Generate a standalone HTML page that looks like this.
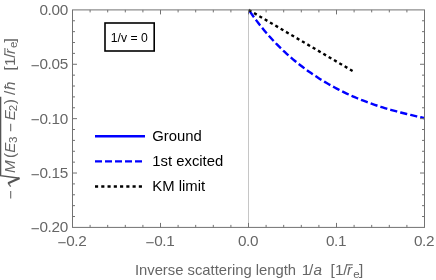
<!DOCTYPE html>
<html><head><meta charset="utf-8"><title>plot</title>
<style>
html,body{margin:0;padding:0;background:#fff;}
body{width:436px;height:280px;overflow:hidden;}
svg{display:block;will-change:transform;}
text{font-family:"Liberation Sans",sans-serif;}
.tk text{font-size:15.3px;fill:#666;letter-spacing:-0.35px;}
.tk.yl text{font-size:15.3px;letter-spacing:0;}
.tk.xl text{font-size:14.8px;letter-spacing:0;}
.lg text{font-size:14.85px;fill:#000;}
</style></head><body>
<svg width="436" height="280" viewBox="0 0 436 280">
<rect width="436" height="280" fill="#fff"/>
<line x1="248.5" y1="9.9" x2="248.5" y2="227.4" stroke="#c6c6c6" stroke-width="1"/>
<path d="M248.70,9.70 L250.70,12.62 L252.70,15.46 L254.70,18.22 L256.70,20.90 L258.70,23.51 L260.70,26.06 L262.70,28.53 L264.70,30.95 L266.70,33.30 L268.70,35.59 L270.70,37.82 L272.70,39.99 L274.70,42.11 L276.70,44.18 L278.70,46.20 L280.70,48.17 L282.70,50.09 L284.70,51.97 L286.70,53.80 L288.70,55.60 L290.70,57.35 L292.70,59.05 L294.70,60.73 L296.70,62.36 L298.70,63.96 L300.70,65.52 L302.70,67.05 L304.70,68.54 L306.70,70.01 L308.70,71.44 L310.70,72.84 L312.70,74.21 L314.70,75.55 L316.70,76.86 L318.70,78.15 L320.70,79.41 L322.70,80.64 L324.70,81.85 L326.70,83.03 L328.70,84.19 L330.70,85.32 L332.70,86.43 L334.70,87.51 L336.70,88.57 L338.70,89.61 L340.70,90.63 L342.70,91.63 L344.70,92.60 L346.70,93.55 L348.70,94.48 L350.70,95.39 L352.70,96.28 L354.70,97.16 L356.70,98.01 L358.70,98.84 L360.70,99.65 L362.70,100.44 L364.70,101.22 L366.70,101.98 L368.70,102.72 L370.70,103.44 L372.70,104.14 L374.70,104.83 L376.70,105.50 L378.70,106.16 L380.70,106.80 L382.70,107.43 L384.70,108.04 L386.70,108.63 L388.70,109.22 L390.70,109.79 L392.70,110.35 L394.70,110.89 L396.70,111.43 L398.70,111.95 L400.70,112.47 L402.70,112.97 L404.70,113.47 L406.70,113.96 L408.70,114.45 L410.70,114.93 L412.70,115.41 L414.70,115.88 L416.70,116.35 L418.70,116.82 L420.70,117.29 L422.70,117.76 L424.70,118.24" fill="none" stroke="#0000ff" stroke-width="2.4" stroke-dasharray="7.2 3.1" stroke-dashoffset="-2"/>
<path d="M248.7,9.9 L352.6,71" fill="none" stroke="#000" stroke-width="2.4" stroke-dasharray="3.09 3.095"/>
<rect x="72.5" y="9.9" width="352.0" height="217.5" fill="none" stroke="#727272" stroke-width="1"/>
<path d="M90.10,227.4v-2.5M90.10,9.9v2.5M107.70,227.4v-2.5M107.70,9.9v2.5M125.30,227.4v-2.5M125.30,9.9v2.5M142.90,227.4v-2.5M142.90,9.9v2.5M160.50,227.4v-4.5M160.50,9.9v4.5M178.10,227.4v-2.5M178.10,9.9v2.5M195.70,227.4v-2.5M195.70,9.9v2.5M213.30,227.4v-2.5M213.30,9.9v2.5M230.90,227.4v-2.5M230.90,9.9v2.5M248.50,227.4v-4.5M248.50,9.9v4.5M266.10,227.4v-2.5M266.10,9.9v2.5M283.70,227.4v-2.5M283.70,9.9v2.5M301.30,227.4v-2.5M301.30,9.9v2.5M318.90,227.4v-2.5M318.90,9.9v2.5M336.50,227.4v-4.5M336.50,9.9v4.5M354.10,227.4v-2.5M354.10,9.9v2.5M371.70,227.4v-2.5M371.70,9.9v2.5M389.30,227.4v-2.5M389.30,9.9v2.5M406.90,227.4v-2.5M406.90,9.9v2.5M72.5,20.77h2.5M424.5,20.77h-2.5M72.5,31.65h2.5M424.5,31.65h-2.5M72.5,42.52h2.5M424.5,42.52h-2.5M72.5,53.40h2.5M424.5,53.40h-2.5M72.5,64.28h4.5M424.5,64.28h-4.5M72.5,75.15h2.5M424.5,75.15h-2.5M72.5,86.03h2.5M424.5,86.03h-2.5M72.5,96.90h2.5M424.5,96.90h-2.5M72.5,107.78h2.5M424.5,107.78h-2.5M72.5,118.65h4.5M424.5,118.65h-4.5M72.5,129.53h2.5M424.5,129.53h-2.5M72.5,140.40h2.5M424.5,140.40h-2.5M72.5,151.28h2.5M424.5,151.28h-2.5M72.5,162.15h2.5M424.5,162.15h-2.5M72.5,173.03h4.5M424.5,173.03h-4.5M72.5,183.90h2.5M424.5,183.90h-2.5M72.5,194.78h2.5M424.5,194.78h-2.5M72.5,205.65h2.5M424.5,205.65h-2.5M72.5,216.53h2.5M424.5,216.53h-2.5" fill="none" stroke="#727272" stroke-width="1"/>
<g class="tk">
<text x="67.8" y="14.80" text-anchor="end">0.00</text>
<text x="67.8" y="69.18" text-anchor="end"><tspan dy="1.7">−</tspan><tspan dy="-1.7">0.05</tspan></text>
<text x="67.8" y="123.55" text-anchor="end"><tspan dy="1.7">−</tspan><tspan dy="-1.7">0.10</tspan></text>
<text x="67.8" y="177.93" text-anchor="end"><tspan dy="1.7">−</tspan><tspan dy="-1.7">0.15</tspan></text>
<text x="67.8" y="232.30" text-anchor="end"><tspan dy="1.7">−</tspan><tspan dy="-1.7">0.20</tspan></text>
<text x="72.00" y="246" text-anchor="middle"><tspan dy="1.7">−</tspan><tspan dy="-1.7">0.2</tspan></text>
<text x="160.00" y="246" text-anchor="middle"><tspan dy="1.7">−</tspan><tspan dy="-1.7">0.1</tspan></text>
<text x="248.00" y="246" text-anchor="middle">0.0</text>
<text x="336.00" y="246" text-anchor="middle">0.1</text>
<text x="424.00" y="246" text-anchor="middle">0.2</text>
</g>
<!-- box -->
<rect x="105" y="23" width="49.2" height="28" fill="#fff" stroke="#000" stroke-width="1.6"/>
<text x="110.8" y="41.9" font-size="12.2" fill="#000">1/v = 0</text>
<!-- legend -->
<g class="lg">
<line x1="95" y1="136.3" x2="145" y2="136.3" stroke="#0000ff" stroke-width="2.4"/>
<line x1="95" y1="161.4" x2="145" y2="161.4" stroke="#0000ff" stroke-width="2.4" stroke-dasharray="7 3"/>
<line x1="95" y1="186.5" x2="145" y2="186.5" stroke="#000" stroke-width="2.4" stroke-dasharray="3.13 3.13"/>
<text x="152.3" y="140.8">Ground</text>
<text x="152.3" y="165.8">1st excited</text>
<text x="152.3" y="190.8">KM limit</text>
</g>
<!-- x label -->
<g class="tk xl">
<text x="134.9" y="274.7" xml:space="preserve">Inverse scattering length</text>
<text y="274.7" font-size="15.3" style="font-size:15.3px" xml:space="preserve"><tspan x="301.8">1</tspan><tspan x="309">/</tspan><tspan x="313.4" font-style="italic">a</tspan><tspan x="330.6">[</tspan><tspan x="335.1">1</tspan><tspan x="343.3">/</tspan><tspan x="347.1" font-style="italic">r</tspan><tspan x="353.3" dy="3" style="font-size:11.5px">e</tspan><tspan x="358.9" dy="-3">]</tspan></text>
<path d="M347.0,264.8 h5.8" fill="none" stroke="#666" stroke-width="1.1"/>
</g>
<!-- y label -->
<g class="tk yl" transform="translate(15.0,198.5) rotate(-90)">
<text y="0" xml:space="preserve"><tspan x="-0.7" dy="1.3">−</tspan><tspan x="25.4" dy="-1.3" font-style="italic">M</tspan><tspan x="40.6">(</tspan><tspan x="45.7" font-style="italic">E</tspan><tspan x="55.6" dy="2.2" font-size="11.5">3</tspan><tspan x="66.5" dy="-0.9">−</tspan><tspan x="78.3" dy="-1.3" font-style="italic">E</tspan><tspan x="87.3" dy="2.2" font-size="11.5">2</tspan><tspan x="94.3" dy="-2.2">)</tspan><tspan x="103.5">/</tspan><tspan x="108.5" font-style="italic">ħ</tspan><tspan x="128">[</tspan><tspan x="132.5">1</tspan><tspan x="140.8">/</tspan><tspan x="144.5" font-style="italic">r</tspan><tspan x="150.5" dy="2.2" font-size="11.5">e</tspan><tspan x="156" dy="-2.2">]</tspan></text>
<path d="M11.8,-4.3 L15.3,-6.9" fill="none" stroke="#666" stroke-width="1.3"/>
<path d="M15.3,-6.9 L20.3,4.4" fill="none" stroke="#555" stroke-width="2.2"/>
<path d="M20.3,4.6 L22.9,-14.4 L101.8,-14.4" fill="none" stroke="#555" stroke-width="1.4"/>
<path d="M144.6,-10.1 h6" fill="none" stroke="#666" stroke-width="1.1"/>
</g>
</svg>
</body></html>
